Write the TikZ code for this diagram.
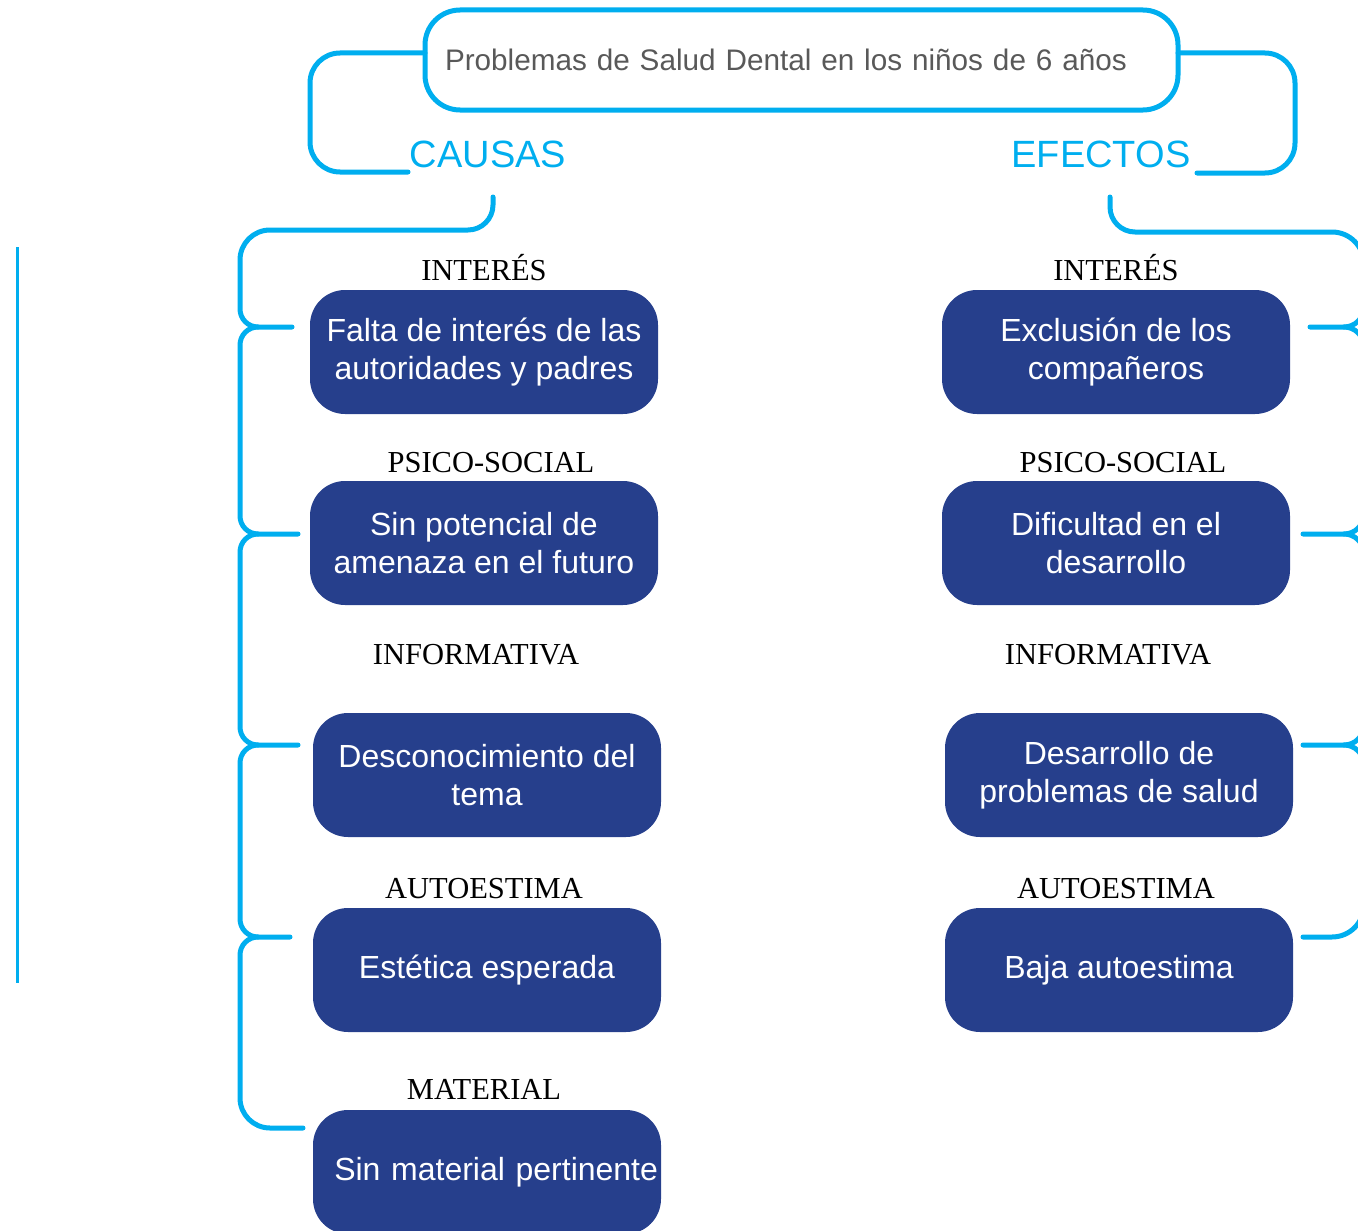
\documentclass[tikz,border=0pt]{standalone}
\usepackage{fontspec}
\setmainfont{Liberation Serif}
\setsansfont{Liberation Sans}
\definecolor{cy}{HTML}{00AEEF}
\definecolor{db}{HTML}{263F8C}
\begin{document}
\begin{tikzpicture}[x=1pt,y=1pt,
 brk/.style={draw=cy,line width=5pt,line cap=round},
 box/.style={fill=db,rounded corners=35pt,minimum width=348pt,minimum height=124pt,text=white,align=center,font=\sffamily\fontsize{32}{38}\selectfont,inner sep=0pt},
 lab/.style={font=\fontsize{30.5}{32}\selectfont,text=black,inner sep=0pt,anchor=base},
 head/.style={text=cy,font=\sffamily\fontsize{38}{40}\selectfont,inner sep=0pt}]
\clip (0,0) rectangle (1358,-1231);
% title
\node[draw=cy,line width=5pt,rounded corners=35pt,minimum width=753pt,minimum height=100pt,text width=713pt,inner xsep=20pt,align=left,font=\sffamily\fontsize{29.7}{34}\selectfont,text=black!65] (title) at (801.5,-60) {Problemas de Salud Dental en los niños de 6 años};
\node[head] (causas) at (488,-154) {CAUSAS};
\node[head] (efectos) at (1101,-154) {EFECTOS};
\draw[brk] (425,-53) -- (340,-53) arc[start angle=90,end angle=180,radius=30] -- (310,-142) arc[start angle=180,end angle=270,radius=30] -- (408,-172);
\draw[brk] (1178,-53) -- (1265,-53) arc[start angle=90,end angle=0,radius=30] -- (1295,-143) arc[start angle=0,end angle=-90,radius=30] -- (1197,-173);
% left vertical line
\draw[draw=cy,line width=3pt] (17,-247) -- (17,-983);
% left boxes
\node[box] (c1) at (484,-352) {Falta de interés de las\\autoridades y padres};
\node[box] (c2) at (484,-543) {Sin potencial de\\amenaza en el futuro};
\node[box] (c3) at (487,-775) {Desconocimiento del\\tema};
\node[box] (c4) at (487,-970) {Estética esperada};
\node[box,text width=342pt,align=right] (c5) at (487,-1172) {Sin material pertinente};
% right boxes
\node[box] (e1) at (1116,-352) {Exclusión de los\\compañeros};
\node[box] (e2) at (1116,-543) {Dificultad en el\\desarrollo};
\node[box] (e3) at (1119,-775) {Desarrollo de\\problemas de salud};
\node[box] (e4) at (1119,-970) {Baja autoestima};
% labels
\node[lab] (l1) at (484,-280) {INTERÉS};
\node[lab] (l2) at (491,-472) {PSICO-SOCIAL};
\node[lab] (l3) at (476,-664) {INFORMATIVA};
\node[lab] (l4) at (484,-898) {AUTOESTIMA};
\node[lab] (l5) at (484,-1099) {MATERIAL};
\node[lab] (r1) at (1116,-280) {INTERÉS};
\node[lab] (r2) at (1123,-472) {PSICO-SOCIAL};
\node[lab] (r3) at (1108,-664) {INFORMATIVA};
\node[lab] (r4) at (1116,-898) {AUTOESTIMA};
% left brace
\draw[brk] (493,-197) -- (493,-205) arc[start angle=0,end angle=-90,radius=25] -- (270,-230) arc[start angle=90,end angle=180,radius=30] -- (240,-309) arc[start angle=180,end angle=270,radius=18] -- (292,-327);
\draw[brk] (258,-327) arc[start angle=90,end angle=180,radius=18] -- (240,-516) arc[start angle=180,end angle=270,radius=18] -- (298,-534);
\draw[brk] (258,-534) arc[start angle=90,end angle=180,radius=18] -- (240,-727) arc[start angle=180,end angle=270,radius=18] -- (298,-745);
\draw[brk] (258,-745) arc[start angle=90,end angle=180,radius=18] -- (240,-919) arc[start angle=180,end angle=270,radius=18] -- (290,-937);
\draw[brk] (258,-937) arc[start angle=90,end angle=180,radius=18] -- (240,-1098) arc[start angle=180,end angle=270,radius=30] -- (303,-1128);
% right brace (vertical runs just beyond the right edge)
\draw[brk] (1110,-197) -- (1110,-207) arc[start angle=180,end angle=270,radius=25] -- (1332,-232) arc[start angle=90,end angle=0,radius=32] -- (1364,-307) arc[start angle=0,end angle=-90,radius=20] -- (1310,-327);
\draw[brk] (1344,-327) arc[start angle=90,end angle=0,radius=20] -- (1364,-514) arc[start angle=0,end angle=-90,radius=20] -- (1303,-534);
\draw[brk] (1344,-534) arc[start angle=90,end angle=0,radius=20] -- (1364,-725) arc[start angle=0,end angle=-90,radius=20] -- (1303,-745);
\draw[brk] (1344,-745) arc[start angle=90,end angle=0,radius=20] -- (1364,-905) arc[start angle=0,end angle=-90,radius=32] -- (1303,-937);
\end{tikzpicture}
\end{document}
